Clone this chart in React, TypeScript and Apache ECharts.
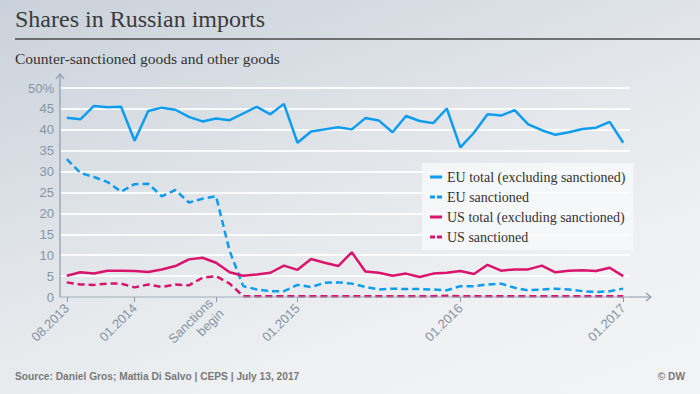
import React, { useEffect, useRef } from "react";
import * as echarts from "echarts";

const months = [
  "08.2013", "09.2013", "10.2013", "11.2013", "12.2013",
  "01.2014", "02.2014", "03.2014", "04.2014", "05.2014", "06.2014", "07.2014",
  "08.2014", "09.2014", "10.2014", "11.2014", "12.2014",
  "01.2015", "02.2015", "03.2015", "04.2015", "05.2015", "06.2015", "07.2015",
  "08.2015", "09.2015", "10.2015", "11.2015", "12.2015",
  "01.2016", "02.2016", "03.2016", "04.2016", "05.2016", "06.2016", "07.2016",
  "08.2016", "09.2016", "10.2016", "11.2016", "12.2016",
  "01.2017",
];
const labelledIdx = [0, 5, 11, 17, 29, 41];
const sanctionsIdx = 11;
const sanctionsLabel = "Sanctions\nbegin";

const euTotal = [
  42.9, 42.5, 45.7, 45.4, 45.5, 37.4, 44.5, 45.3, 44.8, 43.1, 42.0, 42.7,
  42.3, 43.9, 45.5, 43.7, 46.2, 36.9, 39.6, 40.1, 40.6, 40.1, 42.8, 42.2,
  39.4, 43.3, 42.1, 41.6, 45.1, 35.8, 39.3, 43.7, 43.4, 44.7, 41.3, 39.9,
  38.8, 39.4, 40.2, 40.5, 41.9, 36.9,
];
const euSanctioned = [
  33.0, 29.7, 28.7, 27.5, 25.2, 27.0, 27.1, 24.1, 25.6, 22.6, 23.5, 24.1,
  11.0, 2.6, 1.8, 1.4, 1.4, 2.9, 2.4, 3.4, 3.5, 3.2, 2.4, 1.8,
  2.0, 1.9, 1.9, 1.8, 1.6, 2.6, 2.6, 3.0, 3.2, 2.2, 1.6, 1.8,
  2.0, 1.8, 1.4, 1.2, 1.4, 2.0,
];
const usTotal = [
  5.1, 5.9, 5.6, 6.3, 6.3, 6.2, 6.0, 6.6, 7.4, 9.0, 9.4, 8.2,
  5.9, 5.1, 5.4, 5.8, 7.5, 6.5, 9.1, 8.2, 7.4, 10.7, 6.1, 5.8,
  5.1, 5.6, 4.8, 5.6, 5.8, 6.2, 5.5, 7.7, 6.3, 6.6, 6.6, 7.5,
  5.9, 6.3, 6.4, 6.2, 7.0, 5.0,
];
const usSanctioned = [
  3.5, 3.0, 2.9, 3.2, 3.2, 2.3, 3.0, 2.4, 3.0, 2.8, 4.6, 5.0,
  3.2, 0.2, 0.2, 0.2, 0.2, 0.2, 0.2, 0.2, 0.2, 0.2, 0.2, 0.2,
  0.2, 0.2, 0.2, 0.2, 0.3, 0.2, 0.2, 0.2, 0.2, 0.2, 0.2, 0.2,
  0.2, 0.2, 0.2, 0.2, 0.2, 0.2,
];
const seriesNames = [
  "EU total (excluding sanctioned)",
  "EU sanctioned",
  "US total (excluding sanctioned)",
  "US sanctioned",
];
const yTop = 52.7;

const BLUE = "#0e9cef";
const PINK = "#da136c";
const AXIS = "#8a9aab";
const LABEL = "#8795a4";
const DASH = [7, 4];
const ICON_SOLID = "path://M0,0H12V3H0Z";
const ICON_DASHED = "path://M0,0H5V3H0ZM7,0H12V3H7Z";

export default function App() {
  const ref = useRef<HTMLDivElement>(null);
  useEffect(() => {
    if (!ref.current) return;
    const chart = echarts.init(ref.current, undefined, { renderer: "svg" });
    const mk = (name: string, data: number[], color: string, dashed: boolean, extra: any = {}) => ({
      name,
      type: "line",
      data,
      symbol: "none",
      clip: false,
      lineStyle: { color, width: 2.5, type: dashed ? DASH : "solid" },
      itemStyle: { color },
      z: 3,
      ...extra,
    });
    chart.setOption({
      animation: false,
      backgroundColor: "transparent",
      grid: { left: 60, right: 70, top: 88, bottom: 97, containLabel: false },
      xAxis: {
        type: "category",
        data: months,
        boundaryGap: true,
        axisLine: { show: false },
        axisTick: {
          show: true,
          alignWithLabel: true,
          interval: (i: number) => labelledIdx.includes(i),
          length: 5,
          lineStyle: { color: AXIS },
        },
        axisLabel: {
          interval: (i: number) => labelledIdx.includes(i),
          rotate: 45,
          margin: 9,
          color: LABEL,
          fontSize: 13,
          lineHeight: 15,
          fontFamily: "'Liberation Sans', Arial, sans-serif",
          formatter: (v: string, i: number) => (i === sanctionsIdx ? sanctionsLabel : v),
        },
        splitLine: { show: false },
      },
      yAxis: {
        type: "value",
        min: 0,
        max: 50,
        interval: 5,
        axisLine: { show: false },
        axisTick: { show: false },
        axisLabel: {
          color: LABEL,
          fontSize: 13,
          margin: 6,
          fontFamily: "'Liberation Sans', Arial, sans-serif",
          formatter: (v: number) => (v === 50 ? "50%" : String(v)),
        },
        splitLine: { lineStyle: { color: "rgba(255,255,255,0.85)", width: 2 } },
      },
      legend: {
        orient: "vertical",
        left: 422,
        top: 163,
        width: 206,
        backgroundColor: "rgba(248,249,251,0.75)",
        padding: [7, 8, 6, 8],
        itemWidth: 12,
        itemHeight: 3,
        itemGap: 6,
        textStyle: {
          color: "#333",
          fontSize: 14,
          lineHeight: 14,
          fontFamily: "'Liberation Serif', 'DejaVu Serif', serif",
          padding: [0, 0, 0, 0],
        },
        data: [
          { name: seriesNames[0], icon: ICON_SOLID, itemStyle: { color: BLUE } },
          { name: seriesNames[1], icon: ICON_DASHED, itemStyle: { color: BLUE } },
          { name: seriesNames[2], icon: ICON_SOLID, itemStyle: { color: PINK } },
          { name: seriesNames[3], icon: ICON_DASHED, itemStyle: { color: PINK } },
        ],
      },
      series: [
        mk(seriesNames[0], euTotal, BLUE, false, {
          markLine: {
            silent: true,
            symbol: "none",
            label: { show: false },
            lineStyle: { color: AXIS, width: 1, type: "solid" },
            data: [[{ coord: [months[sanctionsIdx], yTop] }, { coord: [months[sanctionsIdx], 0] }]],
            z: 1,
          },
        }),
        mk(seriesNames[1], euSanctioned, BLUE, true),
        mk(seriesNames[2], usTotal, PINK, false),
        mk(seriesNames[3], usSanctioned, PINK, true),
      ],
      graphic: [
        {
          type: "text",
          left: 15,
          top: 7,
          style: {
            text: "Shares in Russian imports",
            font: "24px 'Liberation Serif', 'DejaVu Serif', serif",
            fill: "#3b3b3b",
          },
        },
        {
          type: "line",
          shape: { x1: 15, y1: 39, x2: 700, y2: 39 },
          style: { stroke: "#4a4a4a", lineWidth: 1.5 },
        },
        {
          type: "text",
          left: 15,
          top: 50,
          style: {
            text: "Counter-sanctioned goods and other goods",
            font: "15.5px 'Liberation Serif', 'DejaVu Serif', serif",
            fill: "#333",
          },
        },
        {
          type: "line",
          shape: { x1: 60, y1: 297, x2: 60, y2: 74 },
          style: { stroke: AXIS, lineWidth: 1.2 },
          z: 5,
        },
        {
          type: "polyline",
          shape: { points: [[56, 79], [60, 74], [64, 79]] },
          style: { stroke: AXIS, lineWidth: 1.2, fill: "none" },
          z: 5,
        },
        {
          type: "line",
          shape: { x1: 60, y1: 297, x2: 651, y2: 297 },
          style: { stroke: AXIS, lineWidth: 1.2 },
          z: 5,
        },
        {
          type: "polyline",
          shape: { points: [[646, 293], [651, 297], [646, 301]] },
          style: { stroke: AXIS, lineWidth: 1.2, fill: "none" },
          z: 5,
        },
        {
          type: "text",
          left: 15,
          top: 371,
          style: {
            text: "Source: Daniel Gros; Mattia Di Salvo | CEPS | July 13, 2017",
            font: "bold 10.2px 'Liberation Sans', Arial, sans-serif",
            fill: "#7a7a7a",
          },
        },
        {
          type: "text",
          right: 15,
          top: 371,
          style: {
            text: "© DW",
            font: "bold 10.2px 'Liberation Sans', Arial, sans-serif",
            fill: "#7a7a7a",
          },
        },
      ],
    });
    return () => chart.dispose();
  }, []);
  return (
    <div
      style={{
        position: "fixed",
        left: 0,
        top: 0,
        width: 700,
        height: 394,
        background: "linear-gradient(160deg, #c9d1da 0%, #e2e6ea 45%, #eff1f3 75%, #f2f3f5 100%)",
      }}
    >
      <div ref={ref} style={{ width: 700, height: 394 }} />
    </div>
  );
}
